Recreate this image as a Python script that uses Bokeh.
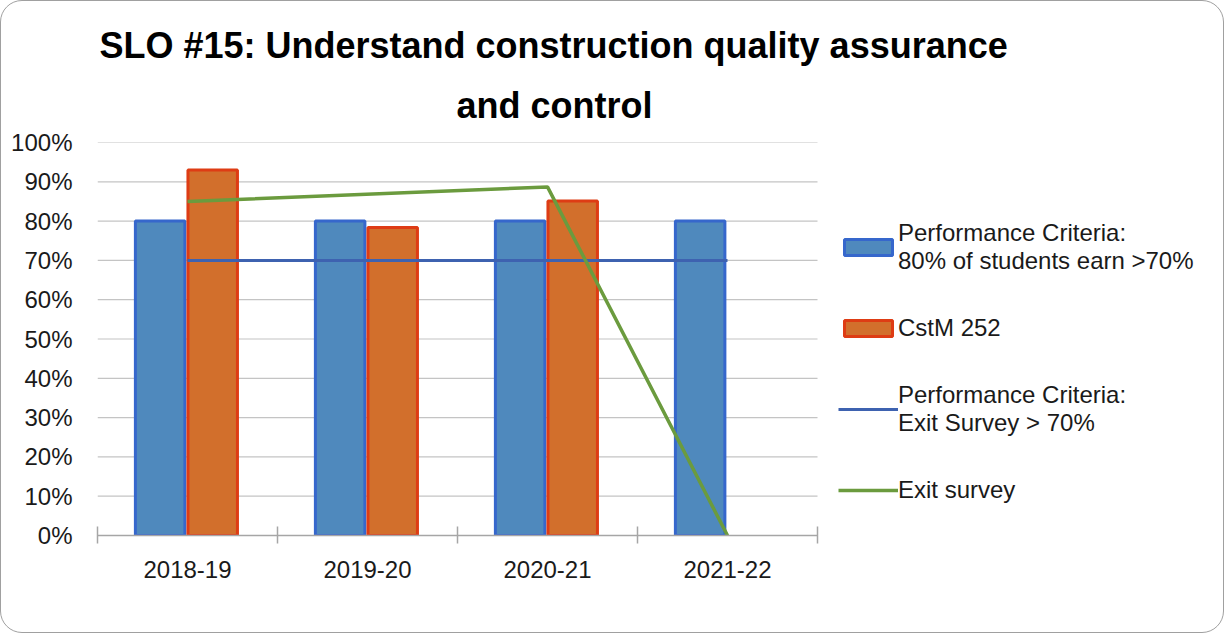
from bokeh.plotting import figure
from bokeh.models import (Range1d, FixedTicker, NumeralTickFormatter, Legend,
                          LegendItem, Title, ColumnDataSource)
from bokeh.embed import file_html
from bokeh.resources import INLINE

# ---------------- data ----------------
years = ["2018-19", "2019-20", "2020-21", "2021-22"]
criteria_bar = [0.80, 0.80, 0.80, 0.80]          # Performance Criteria: 80% of students earn >70%
cstm_252 = [0.93, 0.784, 0.851, None]            # CstM 252
criteria_line = [0.70, 0.70, 0.70, 0.70]         # Performance Criteria: Exit Survey > 70%
exit_survey = [0.85, None, 0.887, 0.0]           # Exit survey

title_lines = ["SLO #15: Understand construction quality assurance", "and control"]
legend_labels = ["Performance Criteria:\n80% of students earn >70%",
                 "CstM 252",
                 "Performance Criteria:\nExit Survey > 70%",
                 "Exit survey"]
y_ticks = [0.0, 0.1, 0.2, 0.3, 0.4, 0.5, 0.6, 0.7, 0.8, 0.9, 1.0]

# ---------------- styling ----------------
FONT = "Liberation Sans"
TXT = "#1a1a1a"
BLUE_FILL, BLUE_LINE = "#4f89bd", "#3667cc"
ORANGE_FILL, ORANGE_LINE = "#d26f2c", "#de3c14"
CRIT_LINE = "#3e62b0"
GREEN = "#6b9b3e"
GRID = "#c4c4c4"

W, H = 1224, 633
LEFT, RIGHT, TOP, BOTTOM = 96, 4, 141, 99
FRAME_W = W - LEFT - RIGHT
CAT_PX = 180.0                      # pixel width of one category slot
n = len(years)
x_end = FRAME_W / CAT_PX            # frame also hosts the legend on the right

p = figure(width=W, height=H, output_backend="svg", toolbar_location=None,
           x_range=Range1d(0, x_end), y_range=Range1d(0, 1),
           min_border_left=LEFT, min_border_right=RIGHT,
           min_border_top=TOP, min_border_bottom=BOTTOM)
p.outline_line_color = None
p.border_fill_color = None
p.background_fill_color = "white"
p.styles = {"border": "1.5px solid #a0a0a0", "border-radius": "22px"}

# horizontal gridlines spanning only the category area
p.xgrid.grid_line_color = None
p.ygrid.grid_line_color = None
p.segment(x0=[0] * len(y_ticks), x1=[n] * len(y_ticks), y0=y_ticks, y1=y_ticks,
          line_color=GRID, line_width=1.2)

centers = [i + 0.5 for i in range(n)]
off = 0.146
bw = 0.275

src_blue = ColumnDataSource(dict(x=[c - off - 0.006 for c in centers], top=criteria_bar))
r_blue = p.vbar(x="x", top="top", width=bw, bottom=0, source=src_blue,
                fill_color=BLUE_FILL, line_color=BLUE_LINE, line_width=3)

ox = [c + off - 0.006 for c, v in zip(centers, cstm_252) if v is not None]
ov = [v for v in cstm_252 if v is not None]
src_or = ColumnDataSource(dict(x=ox, top=ov))
r_or = p.vbar(x="x", top="top", width=bw, bottom=0, source=src_or,
              fill_color=ORANGE_FILL, line_color=ORANGE_LINE, line_width=3)

r_crit = p.line(centers, criteria_line, line_color=CRIT_LINE, line_width=3)

gx = [c for c, v in zip(centers, exit_survey) if v is not None]
gv = [v for v in exit_survey if v is not None]
r_exit = p.line(gx, gv, line_color=GREEN, line_width=3.5)

# ---------------- axes ----------------
xa = p.xaxis[0]
xa.bounds = (0, n)
xa.ticker = FixedTicker(ticks=centers, minor_ticks=list(range(n + 1)))
xa.major_label_overrides = {c: y for c, y in zip(centers, years)}
xa.major_tick_line_color = None
xa.major_tick_in = 0
xa.major_tick_out = 0
xa.minor_tick_line_color = "#a6a6a6"
xa.minor_tick_line_width = 1.5
xa.minor_tick_in = 9
xa.minor_tick_out = 8
xa.axis_line_color = "#a6a6a6"
xa.axis_line_width = 1.5
xa.major_label_standoff = 17
xa.major_label_text_font = FONT
xa.major_label_text_font_size = "24px"
xa.major_label_text_color = TXT

ya = p.yaxis[0]
ya.ticker = FixedTicker(ticks=y_ticks)
ya.formatter = NumeralTickFormatter(format="0%")
ya.axis_line_color = None
ya.major_tick_line_color = None
ya.minor_tick_line_color = None
ya.major_tick_out = 0
ya.major_tick_in = 0
ya.major_label_standoff = 25
ya.major_label_text_font = FONT
ya.major_label_text_font_size = "24px"
ya.major_label_text_color = TXT

# ---------------- title (two lines, added nearest-first) ----------------
p.add_layout(Title(text=title_lines[1], align="left", offset=359, standoff=34,
                   text_font=FONT, text_font_size="36px", text_font_style="bold",
                   text_color="#000000"), "above")
p.add_layout(Title(text=title_lines[0], align="left", offset=2, standoff=0,
                   text_font=FONT, text_font_size="36px", text_font_style="bold",
                   text_color="#000000"), "above")

# ---------------- legend ----------------
items = [LegendItem(label=legend_labels[0], renderers=[r_blue]),
         LegendItem(label=legend_labels[1], renderers=[r_or]),
         LegendItem(label=legend_labels[2], renderers=[r_crit]),
         LegendItem(label=legend_labels[3], renderers=[r_exit])]
legend = Legend(items=items, location=(741, 31), orientation="vertical",
                label_text_font=FONT, label_text_font_size="24px",
                label_text_line_height=1.3,
                label_text_color=TXT, glyph_width=60, glyph_height=20,
                label_standoff=0, spacing=39, padding=0, margin=0,
                border_line_color=None, background_fill_alpha=0)
p.add_layout(legend)

open("out.html", "w").write(file_html(p, INLINE))
